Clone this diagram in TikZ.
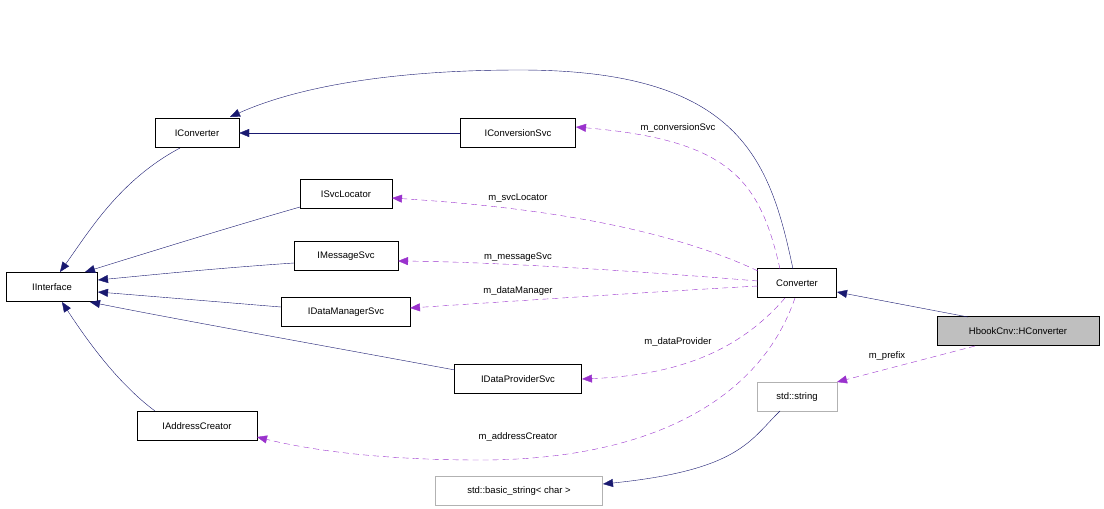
\documentclass[tikz,border=0pt]{standalone}
\usepackage{fontspec}
\setmainfont{Liberation Sans}
\usetikzlibrary{arrows.meta}
\definecolor{navy}{HTML}{191970}
\definecolor{purp}{HTML}{9A32CD}
\begin{document}
\begin{tikzpicture}[x=1pt,y=-1pt,
  box/.style={draw,minimum height=29pt,inner sep=0pt,font=\fontsize{9.5}{11}\selectfont},
  ghost/.style={box,draw=gray!60},
  inh/.style={draw=navy,-{Triangle[fill=navy,length=10pt,width=8pt]}},
  use/.style={draw=purp,dashed,dash pattern=on 6pt off 4pt,-{Triangle[fill=purp,length=10pt,width=8pt]}},
  lbl/.style={font=\fontsize{9.5}{11}\selectfont,fill=white,inner sep=1pt}]
\useasboundingbox (0,0) rectangle (1104,509);
\node[box,minimum width=91pt] (ii) at (52,287) {IInterface};
\node[box,minimum width=84pt] (ic) at (197,133) {IConverter};
\node[box,minimum width=115pt] (ics) at (518,133) {IConversionSvc};
\node[box,minimum width=92pt] (isl) at (346,194) {ISvcLocator};
\node[box,minimum width=104pt] (ims) at (346,256) {IMessageSvc};
\node[box,minimum width=129pt] (idm) at (346,312) {IDataManagerSvc};
\node[box,minimum width=127pt] (idp) at (518,379) {IDataProviderSvc};
\node[box,minimum width=120pt] (iac) at (197,426) {IAddressCreator};
\node[box,minimum width=79pt] (cv) at (797,283) {Converter};
\node[box,minimum width=162pt,fill=gray!50] (hc) at (1018,331) {HbookCnv::HConverter};
\node[ghost,minimum width=80pt] (ss) at (797,397) {std::string};
\node[ghost,minimum width=167pt] (bs) at (519,491) {std::basic\_string< char >};
% inheritance
\draw[inh] (180,148) .. controls (120,180) and (90,230) .. (60,272);
\draw[inh] (300,207) .. controls (220,230) and (140,255) .. (85,272);
\draw[inh] (294,263) .. controls (220,268) and (160,274) .. (98,280);
\draw[inh] (281,307) .. controls (220,302) and (160,297) .. (98,292);
\draw[inh] (455,370) .. controls (320,345) and (180,320) .. (90,302);
\draw[inh] (155,411) .. controls (120,385) and (90,345) .. (62,302);
\draw[inh] (ics.west) -- (ic.east);
\draw[inh] (793,269) .. controls (770,160) and (740,70) .. (520,70) .. controls (380,70) and (290,90) .. (230,117);
\draw[inh] (968,317) -- (837,292);
\draw[inh] (780,411) .. controls (750,440) and (740,470) .. (603,484);
% usage
\draw[use] (780,269) .. controls (760,180) and (730,140) .. (576,127);
\draw[use] (758,271) .. controls (650,220) and (500,205) .. (392,198);
\draw[use] (758,281) .. controls (650,272) and (500,262) .. (398,261);
\draw[use] (758,286) .. controls (650,292) and (500,302) .. (410,308);
\draw[use] (785,298) .. controls (740,350) and (680,375) .. (582,379);
\draw[use] (795,298) .. controls (760,400) and (650,460) .. (480,460) .. controls (380,460) and (310,450) .. (257,437);
\draw[use] (975,346) -- (837,382);
\node[lbl] (l1) at (678,128) {m\_conversionSvc};
\node[lbl] (l2) at (518,198) {m\_svcLocator};
\node[lbl] (l3) at (518,257) {m\_messageSvc};
\node[lbl] (l4) at (518,291) {m\_dataManager};
\node[lbl] (l5) at (678,342) {m\_dataProvider};
\node[lbl] (l6) at (518,437) {m\_addressCreator};
\node[lbl] (l7) at (887,356) {m\_prefix};
\end{tikzpicture}
\end{document}
